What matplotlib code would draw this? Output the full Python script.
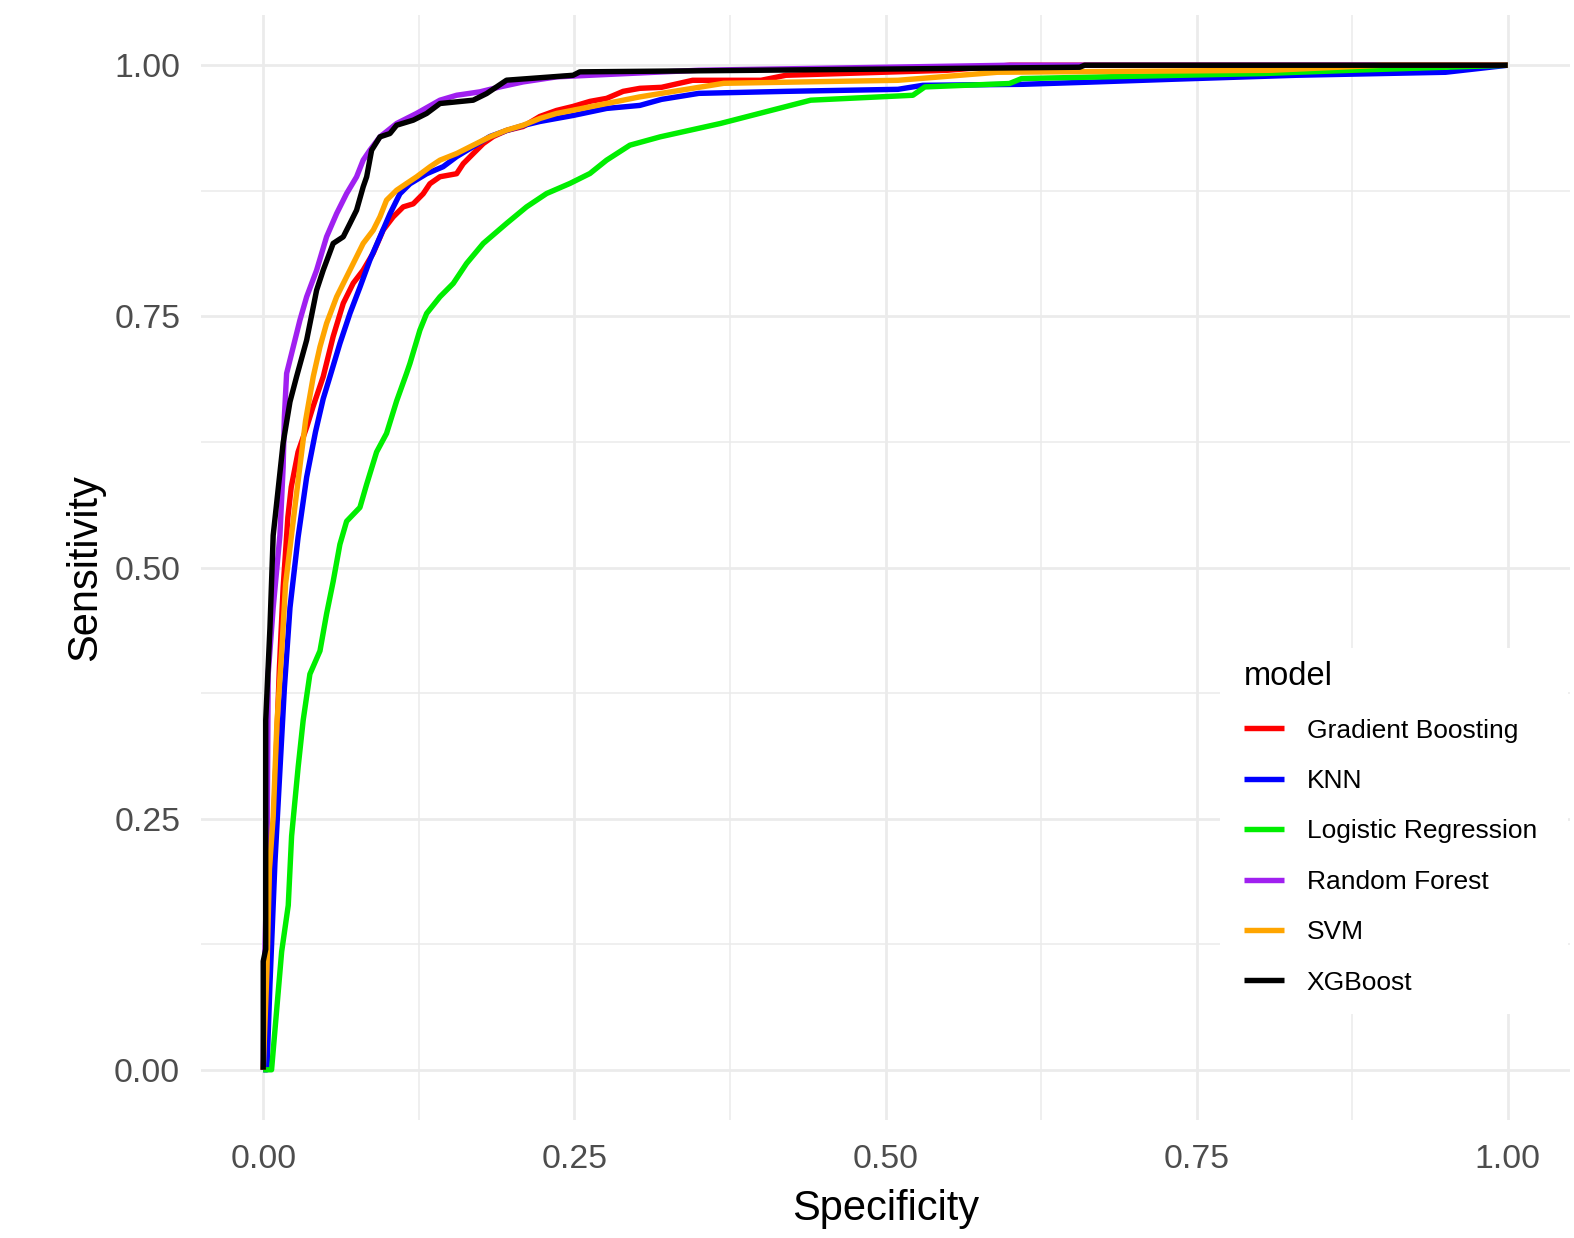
import matplotlib.pyplot as plt
from matplotlib.patches import Rectangle
from matplotlib.ticker import MultipleLocator

plt.rcParams['font.family'] = ['Liberation Sans', 'DejaVu Sans']

# ROC points (x = 1 - specificity as drawn, y = sensitivity)
gb_x = [0, 0.004, 0.007, 0.010, 0.013, 0.016, 0.0198, 0.0225, 0.028, 0.035,
        0.040, 0.0482, 0.0562, 0.0643, 0.0723, 0.0803, 0.0884, 0.0964, 0.1044, 0.1125,
        0.1205, 0.1285, 0.1339, 0.142, 0.1554, 0.1607, 0.1687, 0.1768, 0.1848, 0.1955,
        0.2089, 0.2223, 0.2357, 0.249, 0.2625, 0.2759, 0.2892, 0.3026, 0.32, 0.345,
        0.40, 0.42, 0.55, 0.60, 1.0]
gb_y = [0, 0.10, 0.20, 0.30, 0.40, 0.48, 0.55, 0.58, 0.615, 0.640,
        0.660, 0.690, 0.730, 0.763, 0.783, 0.796, 0.813, 0.836, 0.849, 0.859,
        0.862, 0.872, 0.882, 0.889, 0.892, 0.902, 0.912, 0.922, 0.929, 0.935,
        0.939, 0.949, 0.955, 0.959, 0.964, 0.967, 0.974, 0.977, 0.978, 0.985,
        0.985, 0.990, 0.995, 1.0, 1.0]

knn_x = [0, 0.003, 0.0054, 0.0094, 0.0134, 0.017, 0.0215, 0.028, 0.0349, 0.042,
         0.0482, 0.0536, 0.0616, 0.0697, 0.0777, 0.0857, 0.0938, 0.1018, 0.1098, 0.1179,
         0.1313, 0.1446, 0.1554, 0.1687, 0.1821, 0.1955, 0.2089, 0.2223, 0.249, 0.2759,
         0.3026, 0.32, 0.35, 0.42, 0.51, 0.53, 0.61, 0.66, 0.73, 0.83,
         0.95, 1.0]
knn_y = [0, 0.0, 0.085, 0.206, 0.298, 0.38, 0.46, 0.53, 0.59, 0.635,
         0.668, 0.690, 0.723, 0.753, 0.779, 0.806, 0.829, 0.852, 0.872, 0.882,
         0.892, 0.899, 0.909, 0.919, 0.929, 0.935, 0.940, 0.944, 0.950, 0.957,
         0.960, 0.966, 0.972, 0.974, 0.976, 0.980, 0.981, 0.983, 0.986, 0.990,
         0.993, 1.0]

lr_x = [0, 0.0067, 0.0148, 0.0201, 0.0228, 0.0281, 0.0321, 0.0375, 0.0456, 0.0509,
        0.0562, 0.0616, 0.067, 0.0777, 0.0831, 0.0911, 0.0991, 0.1072, 0.1152, 0.1179,
        0.1259, 0.1313, 0.142, 0.1527, 0.1634, 0.1768, 0.1955, 0.2116, 0.2277, 0.2464,
        0.2625, 0.2759, 0.2946, 0.3189, 0.3673, 0.4399, 0.522, 0.5316, 0.5996, 0.6093,
        0.8029, 0.8755, 1.0]
lr_y = [0, 0.0, 0.1175, 0.1636, 0.2327, 0.3018, 0.3479, 0.3939, 0.417, 0.4538,
        0.4861, 0.523, 0.546, 0.5598, 0.5828, 0.615, 0.6335, 0.6658, 0.6934, 0.7032,
        0.7363, 0.7529, 0.7695, 0.7828, 0.8027, 0.8226, 0.8425, 0.859, 0.8723, 0.8823,
        0.8922, 0.9055, 0.9204, 0.9287, 0.942, 0.9652, 0.9701, 0.9784, 0.9818, 0.9867,
        0.9917, 0.995, 1.0]

rf_x = [0, 0.001, 0.003, 0.0035, 0.004, 0.008, 0.0134, 0.016, 0.017, 0.0188,
        0.0295, 0.0349, 0.0429, 0.0509, 0.059, 0.067, 0.075, 0.0803, 0.0857, 0.0938,
        0.1072, 0.1232, 0.142, 0.1554, 0.1741, 0.1902, 0.2089, 0.2357, 0.2625, 0.35,
        0.45, 0.6, 1.0]
rf_y = [0, 0.1, 0.2, 0.3, 0.394, 0.46, 0.532, 0.6, 0.65, 0.6932,
        0.7463, 0.7695, 0.796, 0.8292, 0.8524, 0.8723, 0.8889, 0.9055, 0.9154, 0.9287,
        0.942, 0.952, 0.9652, 0.9701, 0.9735, 0.9784, 0.9834, 0.9884, 0.99, 0.995,
        0.997, 1.0, 1.0]

svm_x = [0, 0.003, 0.005, 0.008, 0.011, 0.015, 0.018, 0.027, 0.034, 0.0402,
         0.0456, 0.0509, 0.059, 0.067, 0.075, 0.0803, 0.0884, 0.0938, 0.0991, 0.1072,
         0.1152, 0.1232, 0.1339, 0.142, 0.1554, 0.1687, 0.1821, 0.1955, 0.2089, 0.2223,
         0.2357, 0.249, 0.2759, 0.3026, 0.32, 0.37, 0.51, 0.59, 0.81, 0.9,
         1.0]
svm_y = [0, 0.1, 0.2, 0.252, 0.345, 0.42, 0.484, 0.576, 0.646, 0.69,
         0.7197, 0.743, 0.7695, 0.7894, 0.8093, 0.8226, 0.8358, 0.8491, 0.8657, 0.8756,
         0.8823, 0.8889, 0.8988, 0.9055, 0.9121, 0.9204, 0.9287, 0.9353, 0.9403, 0.947,
         0.952, 0.9552, 0.9619, 0.9685, 0.972, 0.982, 0.985, 0.993, 0.995, 1.0,
         1.0]

xgb_x = [0, 0, 0.002, 0.002, 0.0054, 0.008, 0.012, 0.016, 0.0215, 0.0268,
         0.0349, 0.0429, 0.0482, 0.0562, 0.0643, 0.0697, 0.075, 0.0803, 0.0831, 0.0871,
         0.0938, 0.1018, 0.1072, 0.1205, 0.1313, 0.142, 0.1687, 0.1795, 0.1955, 0.249,
         0.2544, 0.399, 0.656, 0.66, 1.0]
xgb_y = [0, 0.108, 0.12, 0.348, 0.44, 0.532, 0.578, 0.624, 0.665, 0.69,
         0.7264, 0.7761, 0.796, 0.8226, 0.8292, 0.8425, 0.8557, 0.8789, 0.8889, 0.9154,
         0.9287, 0.932, 0.9403, 0.9453, 0.952, 0.9619, 0.9652, 0.9718, 0.9851, 0.99,
         0.9934, 0.995, 0.998, 1.0, 1.0]

models = ['Gradient Boosting', 'KNN', 'Logistic Regression', 'Random Forest', 'SVM', 'XGBoost']
colors = ['#FF0000', '#0000FF', '#00EE00', '#A020F0', '#FFA500', '#000000']
curves = [(gb_x, gb_y), (knn_x, knn_y), (lr_x, lr_y), (rf_x, rf_y), (svm_x, svm_y), (xgb_x, xgb_y)]

W, H = 1574, 1238
fig = plt.figure(figsize=(W / 100, H / 100), dpi=100)
ax = fig.add_axes([201 / W, 1 - 1120 / H, 1369 / W, 1105 / H])

for name, col, (xs, ys) in zip(models, colors, curves):
    ax.plot(xs, ys, color=col, lw=3.9, label=name, solid_joinstyle='round', solid_capstyle='butt')

ax.set_xlim(-0.05, 1.05)
ax.set_ylim(-0.05, 1.05)
for s in ax.spines.values():
    s.set_visible(False)

ax.xaxis.set_minor_locator(MultipleLocator(0.125))
ax.yaxis.set_minor_locator(MultipleLocator(0.125))
ax.set_xticks([0, 0.25, 0.5, 0.75, 1.0], ['0.00', '0.25', '0.50', '0.75', '1.00'])
ax.set_yticks([0, 0.25, 0.5, 0.75, 1.0], ['0.00', '0.25', '0.50', '0.75', '1.00'])
ax.grid(which='major', color='#EBEBEB', lw=2.0)
ax.grid(which='minor', color='#EBEBEB', lw=1.1)
ax.set_axisbelow(True)
ax.tick_params(which='both', length=0, labelsize=24.3, labelcolor='#4D4D4D')
ax.tick_params(axis='y', pad=15)
ax.tick_params(axis='x', pad=17)

ax.set_xlabel('Specificity', fontsize=30, color='black')
ax.set_ylabel('Sensitivity', fontsize=30, color='black')
ax.xaxis.set_label_coords(0.5, -0.0625)
ax.yaxis.set_label_coords(-0.070, 0.5)

# white block behind the legend, cutting the grid like the ggplot legend box
bg = Rectangle((1220 / W, 1 - 1014 / H), 348 / W, 366 / H, transform=fig.transFigure,
               facecolor='white', edgecolor='none', zorder=3, clip_on=False)
ax.add_patch(bg)

leg = ax.legend(title='model', loc='upper left', bbox_to_anchor=(1231 / W, 1 - 648 / H),
                bbox_transform=fig.transFigure, frameon=False, fontsize=19,
                title_fontsize=23.5, alignment='left', borderpad=0, handlelength=1.5,
                handletextpad=0.87, labelspacing=1.0)
leg.set_zorder(5)

fig.savefig('out.png', dpi=100)
